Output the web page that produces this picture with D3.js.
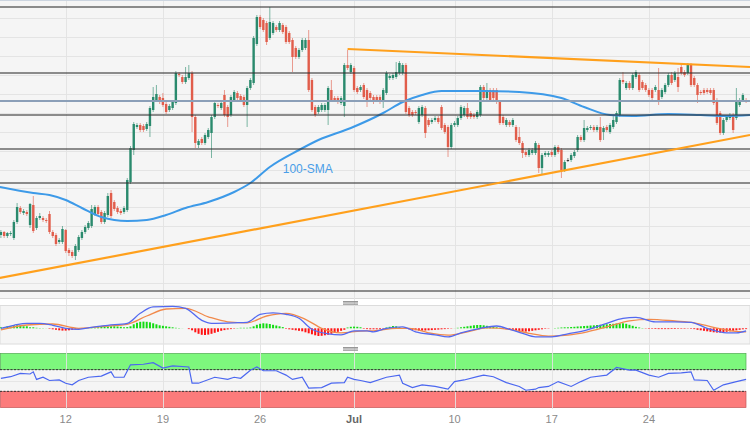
<!DOCTYPE html>
<html><head><meta charset="utf-8">
<script src="https://cdn.jsdelivr.net/npm/d3@7"></script>
<style>body{margin:0;background:#fff}svg{display:block}</style>
</head><body><svg id="c" width="750" height="430"></svg>
<script>
// ---- data ----
const tickIdx = [20, 50, 80, 109, 140, 170, 200];
const tickLabels = ["12", "19", "26", "Jul", "10", "17", "24"];
const monthTicks = ["Jul"];

// candles: [open, high, low, close]
const candles = [
[1.2772,1.2777,1.2769,1.2775],[1.2775,1.2776,1.2769,1.2771],[1.2771,1.2775,1.2769,1.2774],[1.2773,1.2776,1.2771,1.2774],
[1.2769,1.2787,1.2767,1.2785],[1.2785,1.2804,1.2783,1.2800],[1.2799,1.2801,1.2793,1.2795],[1.2794,1.2798,1.2792,1.2796],
[1.2795,1.2797,1.2791,1.2793],[1.2782,1.2804,1.2779,1.2803],[1.2802,1.2811,1.2774,1.2776],[1.2779,1.2791,1.2777,1.2789],
[1.2789,1.2794,1.2787,1.2791],[1.2789,1.2791,1.2785,1.2787],[1.2787,1.2789,1.2784,1.2786],[1.2793,1.2796,1.2773,1.2775],
[1.2775,1.2777,1.2769,1.2771],[1.2772,1.2774,1.2761,1.2763],[1.2765,1.2769,1.2763,1.2767],[1.2765,1.2781,1.2763,1.2778],
[1.2777,1.2778,1.2754,1.2756],[1.2757,1.2759,1.2751,1.2754],[1.2755,1.2757,1.2749,1.2751],[1.2751,1.2763,1.2747,1.2761],
[1.2757,1.2772,1.2755,1.2770],[1.2769,1.2777,1.2767,1.2775],[1.2775,1.2782,1.2773,1.2780],[1.2779,1.2786,1.2777,1.2784],
[1.2781,1.2802,1.2779,1.2798],[1.2793,1.2802,1.2791,1.2800],[1.2800,1.2802,1.2791,1.2793],[1.2795,1.2797,1.2783,1.2785],
[1.2785,1.2796,1.2783,1.2794],[1.2792,1.2814,1.2790,1.2811],[1.2814,1.2817,1.2789,1.2791],[1.2805,1.2807,1.2796,1.2798],
[1.2799,1.2801,1.2793,1.2795],[1.2796,1.2798,1.2792,1.2794],[1.2795,1.2801,1.2793,1.2799],[1.2797,1.2829,1.2795,1.2827],
[1.2825,1.2861,1.2823,1.2859],[1.2857,1.2885,1.2852,1.2883],[1.2880,1.2884,1.2878,1.2882],[1.2882,1.2884,1.2875,1.2877],
[1.2881,1.2883,1.2875,1.2877],[1.2878,1.2885,1.2876,1.2883],[1.2881,1.2901,1.2870,1.2899],[1.2897,1.2920,1.2895,1.2910],
[1.2907,1.2922,1.2905,1.2913],[1.2910,1.2912,1.2903,1.2905],[1.2909,1.2914,1.2900,1.2902],[1.2903,1.2905,1.2893,1.2895],
[1.2897,1.2903,1.2895,1.2901],[1.2899,1.2907,1.2897,1.2905],[1.2904,1.2936,1.2902,1.2934],[1.2933,1.2935,1.2930,1.2932],
[1.2930,1.2932,1.2923,1.2925],[1.2925,1.2940,1.2923,1.2930],[1.2929,1.2942,1.2927,1.2934],[1.2934,1.2936,1.2875,1.2890],
[1.2890,1.2892,1.2859,1.2864],[1.2862,1.2868,1.2859,1.2866],[1.2868,1.2870,1.2862,1.2864],[1.2864,1.2874,1.2862,1.2872],
[1.2870,1.2879,1.2868,1.2877],[1.2874,1.2892,1.2849,1.2890],[1.2890,1.2906,1.2888,1.2904],[1.2902,1.2904,1.2899,1.2901],
[1.2899,1.2906,1.2897,1.2904],[1.2912,1.2917,1.2890,1.2892],[1.2900,1.2902,1.2880,1.2890],[1.2892,1.2912,1.2890,1.2910],
[1.2907,1.2917,1.2905,1.2915],[1.2914,1.2916,1.2907,1.2909],[1.2911,1.2913,1.2905,1.2907],[1.2910,1.2912,1.2900,1.2902],
[1.2902,1.2921,1.2880,1.2919],[1.2919,1.2929,1.2917,1.2927],[1.2924,1.2971,1.2922,1.2969],[1.2963,1.2992,1.2961,1.2990],
[1.2990,1.2992,1.2978,1.2980],[1.2987,1.2989,1.2975,1.2977],[1.2984,1.2986,1.2962,1.2965],[1.2969,1.3000,1.2967,1.2985],
[1.2974,1.2986,1.2972,1.2984],[1.2980,1.2982,1.2975,1.2977],[1.2977,1.2986,1.2975,1.2984],[1.2982,1.2984,1.2973,1.2975],
[1.2980,1.2982,1.2963,1.2965],[1.2974,1.2976,1.2963,1.2965],[1.2967,1.2969,1.2935,1.2950],[1.2959,1.2961,1.2948,1.2950],
[1.2950,1.2959,1.2948,1.2957],[1.2957,1.2969,1.2955,1.2967],[1.2959,1.2969,1.2957,1.2967],[1.2967,1.2977,1.2915,1.2917],
[1.2927,1.2929,1.2895,1.2897],[1.2900,1.2902,1.2890,1.2892],[1.2895,1.2902,1.2893,1.2900],[1.2897,1.2904,1.2895,1.2902],
[1.2897,1.2904,1.2895,1.2902],[1.2897,1.2921,1.2882,1.2919],[1.2917,1.2927,1.2905,1.2907],[1.2909,1.2911,1.2905,1.2907],
[1.2909,1.2911,1.2903,1.2905],[1.2904,1.2911,1.2902,1.2909],[1.2901,1.2944,1.2890,1.2942],[1.2942,1.2957,1.2937,1.2939],
[1.2935,1.2944,1.2933,1.2942],[1.2939,1.2941,1.2915,1.2917],[1.2919,1.2921,1.2913,1.2915],[1.2917,1.2922,1.2915,1.2920],
[1.2922,1.2924,1.2908,1.2910],[1.2917,1.2919,1.2900,1.2907],[1.2914,1.2916,1.2907,1.2909],[1.2910,1.2912,1.2903,1.2905],
[1.2910,1.2912,1.2905,1.2907],[1.2910,1.2912,1.2903,1.2905],[1.2907,1.2919,1.2899,1.2917],[1.2914,1.2936,1.2912,1.2934],
[1.2929,1.2933,1.2927,1.2931],[1.2929,1.2934,1.2927,1.2932],[1.2930,1.2945,1.2928,1.2935],[1.2934,1.2946,1.2932,1.2944],
[1.2934,1.2944,1.2932,1.2942],[1.2942,1.2944,1.2893,1.2895],[1.2899,1.2901,1.2890,1.2892],[1.2895,1.2897,1.2890,1.2892],
[1.2895,1.2897,1.2892,1.2894],[1.2885,1.2901,1.2883,1.2899],[1.2892,1.2902,1.2890,1.2900],[1.2899,1.2901,1.2869,1.2874],
[1.2887,1.2889,1.2880,1.2882],[1.2885,1.2889,1.2883,1.2887],[1.2887,1.2891,1.2885,1.2889],[1.2889,1.2891,1.2883,1.2885],
[1.2900,1.2902,1.2877,1.2879],[1.2882,1.2884,1.2873,1.2875],[1.2880,1.2882,1.2850,1.2860],[1.2860,1.2884,1.2858,1.2882],
[1.2882,1.2886,1.2880,1.2884],[1.2882,1.2891,1.2880,1.2889],[1.2889,1.2902,1.2887,1.2900],[1.2892,1.2901,1.2890,1.2899],
[1.2899,1.2904,1.2888,1.2890],[1.2894,1.2896,1.2888,1.2890],[1.2892,1.2894,1.2888,1.2890],[1.2890,1.2897,1.2888,1.2895],
[1.2892,1.2922,1.2890,1.2920],[1.2920,1.2922,1.2907,1.2909],[1.2909,1.2924,1.2907,1.2917],[1.2917,1.2919,1.2905,1.2907],
[1.2917,1.2919,1.2907,1.2909],[1.2917,1.2919,1.2903,1.2905],[1.2905,1.2907,1.2882,1.2884],[1.2890,1.2892,1.2882,1.2884],
[1.2882,1.2889,1.2880,1.2887],[1.2885,1.2887,1.2880,1.2882],[1.2882,1.2889,1.2880,1.2887],[1.2880,1.2882,1.2865,1.2867],
[1.2870,1.2880,1.2862,1.2864],[1.2864,1.2866,1.2849,1.2854],[1.2855,1.2857,1.2850,1.2852],[1.2852,1.2859,1.2850,1.2857],
[1.2854,1.2859,1.2852,1.2857],[1.2854,1.2866,1.2852,1.2864],[1.2862,1.2864,1.2834,1.2839],[1.2839,1.2854,1.2833,1.2852],
[1.2852,1.2856,1.2850,1.2854],[1.2852,1.2856,1.2850,1.2854],[1.2855,1.2857,1.2850,1.2852],[1.2852,1.2862,1.2850,1.2860],
[1.2860,1.2862,1.2853,1.2855],[1.2857,1.2859,1.2829,1.2837],[1.2837,1.2847,1.2835,1.2845],[1.2847,1.2849,1.2845,1.2847],
[1.2847,1.2854,1.2845,1.2852],[1.2851,1.2857,1.2849,1.2855],[1.2857,1.2872,1.2855,1.2870],[1.2870,1.2872,1.2865,1.2867],
[1.2867,1.2887,1.2865,1.2879],[1.2877,1.2881,1.2875,1.2879],[1.2879,1.2882,1.2877,1.2880],[1.2880,1.2882,1.2875,1.2877],
[1.2877,1.2882,1.2875,1.2880],[1.2880,1.2890,1.2865,1.2867],[1.2875,1.2881,1.2867,1.2879],[1.2880,1.2882,1.2875,1.2877],
[1.2875,1.2884,1.2873,1.2882],[1.2880,1.2892,1.2878,1.2887],[1.2885,1.2896,1.2883,1.2894],[1.2892,1.2929,1.2890,1.2927],
[1.2927,1.2935,1.2923,1.2925],[1.2919,1.2926,1.2917,1.2924],[1.2924,1.2926,1.2917,1.2919],[1.2919,1.2934,1.2917,1.2932],
[1.2930,1.2937,1.2928,1.2935],[1.2932,1.2934,1.2915,1.2917],[1.2925,1.2927,1.2917,1.2919],[1.2922,1.2924,1.2915,1.2917],
[1.2917,1.2919,1.2910,1.2912],[1.2917,1.2919,1.2907,1.2909],[1.2917,1.2922,1.2915,1.2920],[1.2917,1.2939,1.2902,1.2905],
[1.2910,1.2919,1.2908,1.2917],[1.2915,1.2924,1.2913,1.2922],[1.2922,1.2934,1.2920,1.2932],[1.2932,1.2935,1.2922,1.2924],
[1.2927,1.2936,1.2925,1.2934],[1.2930,1.2939,1.2915,1.2920],[1.2940,1.2943,1.2932,1.2934],[1.2935,1.2937,1.2930,1.2932],
[1.2934,1.2944,1.2932,1.2942],[1.2942,1.2944,1.2920,1.2922],[1.2929,1.2931,1.2920,1.2922],[1.2922,1.2924,1.2904,1.2912],
[1.2915,1.2917,1.2912,1.2914],[1.2917,1.2919,1.2912,1.2914],[1.2917,1.2919,1.2913,1.2915],[1.2917,1.2919,1.2912,1.2914],
[1.2917,1.2919,1.2902,1.2904],[1.2907,1.2909,1.2882,1.2884],[1.2894,1.2896,1.2872,1.2874],[1.2874,1.2889,1.2872,1.2887],
[1.2887,1.2892,1.2885,1.2890],[1.2889,1.2894,1.2887,1.2892],[1.2892,1.2894,1.2874,1.2877],[1.2889,1.2919,1.2887,1.2907],
[1.2902,1.2909,1.2900,1.2907],[1.2907,1.2914,1.2905,1.2912],[1.2907,1.2909,1.2904,1.2906]
];

// 100-period simple moving average, [candle index, price]
const sma100 = [[-0.3,1.2820],[10,1.2814],[15,1.2812],[20,1.2807],[25,1.2799],[31,1.2790],[39,1.2786],[45,1.2787],
[51,1.2792],[57,1.2799],[64,1.2805],[72,1.2815],[77,1.2824],[83,1.2840],[92,1.2857],[98,1.2867],[108,1.2879],
[118,1.2894],[124,1.2905],[130,1.2912],[136,1.2916],[149,1.2916],[160,1.2915],[173,1.2909],[180,1.2900],
[188,1.2892],[195,1.2891],[206,1.2893],[216,1.2892],[224,1.2891],[231.2,1.2892]];

const levels = [1.3000, 1.2934, 1.2892, 1.2858, 1.2824, 1.2716];
const pivotLevels = [1.2906];
const gridPrices = [1.2989,1.2970,1.2951,1.2932,1.2913,1.2894,1.2875,1.2856,1.2837,1.2819,1.2800,1.2781,1.2762,1.2743,1.2724];
const trendUpper = [[107,1.2958],[231.2,1.2940]];
const trendLower = [[-0.3,1.2729],[231.2,1.2872]];
const smaLabel = {idx: 87, price: 1.2834, text: "100-SMA"};

// MACD (pips)
const macdLine = [[0,0],[4,3],[8,5],[12,5],[16,3],[20,0],[24,-1],[28,1],[33,3],[39,5],[43,15],[47,21.5],[53,22],[57,20],
[62,8],[65,5],[72,5.5],[76,6],[80,14],[84,15.5],[88,14],[92,10],[96,-1],[101,-5.5],[105,-6.5],[109,-2.5],[113,-2.5],
[115,-3.5],[119,0],[124,1.5],[128,-3.5],[134,-6.5],[138,-8.5],[142,-4.5],[148,0],[153,2.3],[157,-1],[161,-5],[165,-8.5],
[170,-8.5],[175,-5.5],[181,-1.5],[187,5],[192,10],[196,11],[202,6.5],[208,6.5],[213,6],[218,0],[224,-4.5],[227,-4.5],[230,-2.5]];
const signalLine = [[0,-1.5],[8,3.3],[16,4.3],[24,0],[33,2.3],[39,4],[45,12.3],[51,19.3],[57,20],[64,11.5],[70,6.5],
[76,5.5],[82,12.3],[88,15],[94,9],[99,0],[105,-4.5],[111,-2.8],[115,-2.5],[122,0],[126,0],[132,-4.5],[138,-6.8],
[144,-3.5],[150,0.5],[157,-1],[163,-5],[169,-7.8],[175,-6.8],[181,-3.5],[187,1.5],[194,7.5],[200,9],[208,7.3],
[214,5.5],[220,1],[226,-2.8],[230,-3.5]];
const macdHist = [
1,1,2,2,3,3,3,2,2,1,1,
0.5,0.3,0.2,0.1,
-0.5,-1,-1.5,-2,-2.3,-2.3,-2,-1.5,-1,-0.7,-0.3,
0,0.2,
0.3,0.6,1,1.3,1.5,1.8,2,2,1.8,1.5,1,
1.2,
2,4,5.5,6.5,6.7,6.5,6,5,4,3,
2.5,2,1.5,1,0.5,0.3,0.1,0,
-0.8,
-2,-4,-5.5,-6.5,-6.7,-6.3,-5.5,-4.5,-3.5,-2.5,-1.8,-1.2,-0.8,-0.4,
0.3,0.5,0.5,0.5,0.8,
2,3.5,4.5,5,4.8,4.3,3.5,2.8,2,1.2,
-0.5,-1,-1.5,-2,-2.5,-3,-4,-5,-6,-7,-7.7,-7.5,-7,-6.5,-5.5,-4.5,-3.5,-2.5,-1.5,
0.8,1.5,1.7,1.5,1,
-0.5,-0.8,-1,-1,-1,-0.8,-0.5,
0.8,1.5,2.3,2,1,
0.2,
-0.5,-1,-1.5,-2,-2.3,-2.3,-2.2,-2,-1.8,-1.5,-1.3,-1,-0.8,-0.5,-0.3,
0.1,
0.5,1,1.5,2,2.5,3,3.3,3.3,3,2.5,2,1.5,1,0.5,
-0.5,-1,-1.5,-2,-2.5,-3,-3.3,-3.3,-3,-2.5,-2,-1.5,
-1,-0.5,-0.3,0,0.3,0.5,0.8,1,1,1.3,1.5,
1.8,2,2.3,2.5,2.8,3,3.3,3.5,3.8,4,4.3,4.5,4.8,5,5,4.5,3.5,2.5,1.5,0.8,0.3,
-0.3,-0.5,-0.5,-0.7,-0.8,-0.8,-0.8,-0.8,-0.7,-0.7,-0.5,-0.5,-0.5,-0.3,-0.5,
-0.8,-1.5,-2,-2.5,-3,-3.5,-4,-4.3,-4.3,-4,-3.5,-3,-2.5,-2,-1.5,-1,
-0.8];

// RSI, [candle index, value]
const rsi = [[0,54],[3,57],[6,63],[9,62],[10,66],[11,52],[13,56],[15,50],[18,51],[20,45],[22,42],[24,50],[27,56],
[31,58],[34,66],[35,56],[38,56],[40,79],[44,80],[47,83],[50,73],[53,77],[58,75],[59,45],[61,45],[66,56],[70,52],
[72,56],[74,54],[77,69],[79,75],[81,68],[85,68],[88,60],[90,52],[93,56],[95,36],[99,37],[102,45],[106,46],[107,56],
[109,52],[111,50],[114,46],[119,56],[123,60],[124,45],[127,37],[130,42],[134,39],[138,34],[140,48],[143,51],[147,57],
[149,60],[152,57],[156,46],[160,39],[162,32],[165,34],[166,37],[169,39],[172,48],[176,39],[179,48],[182,56],[187,60],
[190,74],[194,69],[196,69],[200,60],[203,56],[206,63],[210,64],[213,66],[214,51],[218,50],[220,32],[223,42],[227,48],[230,52]];
const rsiBands = [70, 30];

// ---- drawing ----
const svg = d3.select("#c");
const FONT = "'Liberation Sans', Arial, sans-serif";
const x = d3.scaleLinear().domain([0, 230]).range([0.9, 746.1]);
const y = d3.scaleLinear().domain([1.2700, 1.3000]).range([307, 7]);
const ym = d3.scaleLinear().domain([-10, 22]).range([338.3, 306.3]);
const yr = d3.scaleLinear().domain([0, 100]).range([407.6, 353.4]);
const crisp = v => Math.round(v) + 0.5;

// main panel background
svg.append("rect").attr("x",0).attr("y",1).attr("width",750).attr("height",297).attr("fill","#f5f5f5");
svg.append("line").attr("x1",0).attr("x2",750).attr("y1",0.5).attr("y2",0.5).attr("stroke","#ccd5e0");
svg.append("line").attr("x1",0).attr("x2",750).attr("y1",298.5).attr("y2",298.5).attr("stroke","#dadada");

svg.append("g").selectAll("line").data(gridPrices).join("line")
  .attr("x1",0).attr("x2",750).attr("y1",d=>crisp(y(d))).attr("y2",d=>crisp(y(d)))
  .attr("stroke","#e4e4e4").attr("stroke-width",1);

// MACD panel background
svg.append("rect").attr("x",0).attr("y",305.5).attr("width",750).attr("height",38.5)
  .attr("fill","#f5f5f5").attr("stroke","#dcdcdc");

// RSI panel
svg.append("rect").attr("x",0).attr("y",yr(70)).attr("width",746).attr("height",yr(30)-yr(70)).attr("fill","#f5f5f5");
svg.append("line").attr("x1",0).attr("x2",746).attr("y1",crisp(yr(50))).attr("y2",crisp(yr(50))).attr("stroke","#e6e6e6");
svg.append("rect").attr("x",0.5).attr("y",yr(100)).attr("width",745.5).attr("height",yr(70)-yr(100))
  .attr("fill","#7df77d").attr("stroke","#55a855").attr("stroke-width",0.7);
svg.append("rect").attr("x",0.5).attr("y",yr(30)).attr("width",745.5).attr("height",yr(0)-yr(30))
  .attr("fill","#fc7b7b").attr("stroke","#c25a5a").attr("stroke-width",0.7);

// vertical grid
svg.append("g").selectAll("line").data(tickIdx).join("line")
  .attr("x1",d=>crisp(x(d))).attr("x2",d=>crisp(x(d))).attr("y1",1).attr("y2",409)
  .attr("stroke","#e2e2e2").attr("stroke-opacity",0.9);

svg.append("g").selectAll("line").data(rsiBands).join("line")
  .attr("x1",0).attr("x2",746).attr("y1",d=>yr(d)).attr("y2",d=>yr(d))
  .attr("stroke","#333").attr("stroke-width",1).attr("stroke-dasharray","2,1.5");

// panel handles
[301.5, 347.5].forEach(hy => {
  const g = svg.append("g");
  [0, 1.4, 2.8].forEach(o => g.append("line").attr("x1",343).attr("x2",358)
    .attr("y1",hy+o).attr("y2",hy+o).attr("stroke","#8c8c8c").attr("stroke-width",0.9));
});

// candles
const col = d => d[3] > d[0] ? "#2a8a6d" : (d[3] < d[0] ? "#e15d4b" : "#333");
const cg = svg.append("g");
cg.selectAll("line").data(candles).join("line")
  .attr("x1",(d,i)=>x(i)).attr("x2",(d,i)=>x(i))
  .attr("y1",d=>y(d[1])).attr("y2",d=>y(d[2]))
  .attr("stroke",col).attr("stroke-opacity",0.6).attr("stroke-width",1);
cg.selectAll("rect").data(candles).join("rect")
  .attr("x",(d,i)=>x(i)-1.2).attr("width",2.4)
  .attr("y",d=>y(Math.max(d[0],d[3])))
  .attr("height",d=>Math.max(1, Math.abs(y(d[0])-y(d[3]))))
  .attr("fill",col);

// SMA
svg.append("path").datum(sma100)
  .attr("d", d3.line().x(d=>x(d[0])).y(d=>y(d[1])).curve(d3.curveMonotoneX))
  .attr("fill","none").attr("stroke","#3d9ae8").attr("stroke-width",2);

// levels
svg.append("g").selectAll("line").data(levels).join("line")
  .attr("x1",0).attr("x2",750).attr("y1",d=>y(d)).attr("y2",d=>y(d))
  .attr("stroke","#333").attr("stroke-opacity",0.72).attr("stroke-width",1.7);
svg.append("g").selectAll("line").data(pivotLevels).join("line")
  .attr("x1",0).attr("x2",750).attr("y1",d=>y(d)).attr("y2",d=>y(d))
  .attr("stroke","#8b9fb8").attr("stroke-width",1.8);

// trend lines
[trendUpper, trendLower].forEach(t => {
  svg.append("line").attr("x1",x(t[0][0])).attr("y1",y(t[0][1]))
    .attr("x2",x(t[1][0])).attr("y2",y(t[1][1]))
    .attr("stroke","#ffa01c").attr("stroke-width",2.2);
});

svg.append("text").attr("x",x(smaLabel.idx)).attr("y",y(smaLabel.price))
  .attr("font-family",FONT).attr("font-size",12).attr("fill","#4a9ee8").text(smaLabel.text);

// MACD histogram
svg.append("g").selectAll("rect").data(macdHist).join("rect")
  .attr("x",(d,i)=>x(i)-1).attr("width",2)
  .attr("y",d=>Math.min(ym(0), ym(d))).attr("height",d=>Math.abs(ym(d)-ym(0)))
  .attr("fill",d=>d>=0 ? "#12dc12" : "#ff1414");
svg.append("path").datum(signalLine)
  .attr("d", d3.line().x(d=>x(d[0])).y(d=>ym(d[1])).curve(d3.curveMonotoneX))
  .attr("fill","none").attr("stroke","#f18a4c").attr("stroke-width",1.3);
svg.append("path").datum(macdLine)
  .attr("d", d3.line().x(d=>x(d[0])).y(d=>ym(d[1])).curve(d3.curveMonotoneX))
  .attr("fill","none").attr("stroke","#5469f0").attr("stroke-width",1.3);

// RSI line
svg.append("path").datum(rsi)
  .attr("d", d3.line().x(d=>x(d[0])).y(d=>yr(d[1])))
  .attr("fill","none").attr("stroke","#4b67f0").attr("stroke-width",1.2);

// x axis labels
svg.append("g").selectAll("text").data(tickIdx).join("text")
  .attr("x",d=>x(d)).attr("y",423).attr("text-anchor","middle")
  .attr("font-family",FONT).attr("font-size",11)
  .attr("font-weight",(d,i)=>monthTicks.includes(tickLabels[i]) ? "bold" : "normal")
  .attr("fill",(d,i)=>monthTicks.includes(tickLabels[i]) ? "#666" : "#8a8a8a")
  .text((d,i)=>tickLabels[i]);
</script>
</body></html>
